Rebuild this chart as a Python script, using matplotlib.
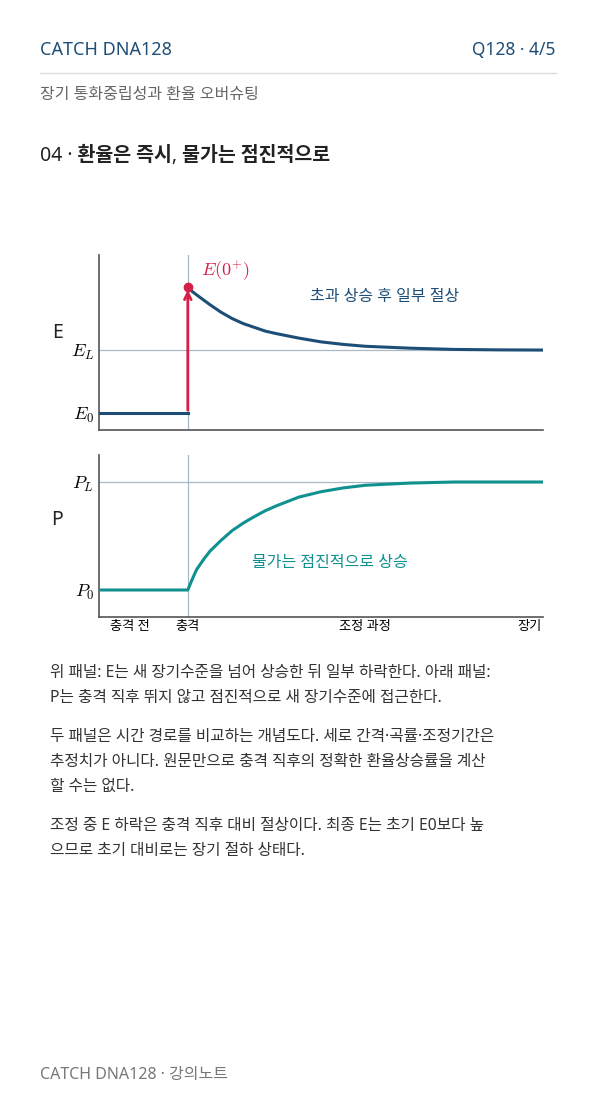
import matplotlib
matplotlib.use("Agg")
import matplotlib.pyplot as plt

plt.rcParams['font.family'] = ['Noto Sans', 'Noto Sans CJK KR', 'DejaVu Sans']
plt.rcParams['mathtext.fontset'] = 'cm'

# data
t_shock = 2.0
e_pre_t = [0, 2.0]
e_pre = [0, 0]
e_t = [2.0, 2.1, 2.25, 2.5, 2.75, 3.0, 3.25, 3.5, 3.75, 4.0, 4.5, 5.0, 5.5, 6.0, 6.5, 7.0, 7.5, 8.0, 9.0, 10.0]
e_v = [2.0, 1.93, 1.85, 1.72, 1.60, 1.50, 1.42, 1.36, 1.30, 1.26, 1.19, 1.13, 1.09, 1.06, 1.045, 1.03, 1.02, 1.01, 1.003, 1.0]
p_t = [0, 2.0, 2.1, 2.2, 2.35, 2.5, 2.75, 3.0, 3.25, 3.5, 3.75, 4.0, 4.25, 4.5, 4.75, 5.0, 5.5, 6.0, 6.5, 7.0, 7.5, 8.0, 10.0]
p_v = [0, 0, 0.10, 0.19, 0.28, 0.36, 0.46, 0.55, 0.62, 0.68, 0.735, 0.78, 0.82, 0.86, 0.885, 0.91, 0.945, 0.97, 0.98, 0.99, 0.995, 1.0, 1.0]
e_levels = [0, 1]
e_ticklabels = [r'$E_0$', r'$E_L$']
p_levels = [0, 1]
p_ticklabels = [r'$P_0$', r'$P_L$']
x_ticks = [0.7, 2.0, 6.0, 9.7]
x_ticklabels = ['충격 전', '충격', '조정 과정', '장기']

NAVY = '#1d4e78'
TEAL = '#0f9190'
RED = '#d41f47'
GRID = '#a8b8c6'
AX = '#555555'

fig = plt.figure(figsize=(5.96, 11.06), dpi=100)
fig.patch.set_facecolor('white')

fig.text(40/596, 1-50/1106, 'CATCH DNA128', color=NAVY, fontsize=13, fontweight='bold', va='center')
fig.text(556/596, 1-50/1106, 'Q128 · 4/5', color=NAVY, fontsize=12.5, ha='right', va='center')
fig.add_artist(plt.Line2D([40/596, 556/596], [1-73/1106]*2, color='#dddddd', lw=1))
fig.text(40/596, 1-95/1106, '장기 통화중립성과 환율 오버슈팅', color='#666666', fontsize=11.5, va='center')
fig.text(40/596, 1-156/1106, '04 · 환율은 즉시, 물가는 점진적으로', color='#222222', fontsize=14, fontweight='bold', va='center')

def style(ax):
    for s in ['top', 'right']:
        ax.spines[s].set_visible(False)
    for s in ['left', 'bottom']:
        ax.spines[s].set_color(AX)
        ax.spines[s].set_linewidth(1.2)
    ax.tick_params(length=0)
    ax.set_xlim(0, 10)

ax1 = fig.add_axes([99/596, 1-430/1106, 444/596, 175/1106])
style(ax1)
ax1.set_ylim(-0.27, 2.51)
ax1.axhline(1, color=GRID, lw=0.9, zorder=1)
ax1.axvline(t_shock, color=GRID, lw=0.9, zorder=1)
ax1.plot(e_pre_t, e_pre, color=NAVY, lw=2.2, zorder=3)
ax1.plot(e_t, e_v, color=NAVY, lw=2.2, zorder=3, solid_joinstyle='round')
ax1.annotate('', xy=(t_shock, e_v[0]), xytext=(t_shock, 0),
             arrowprops=dict(arrowstyle='->', color=RED, lw=2, mutation_scale=12), zorder=4)
ax1.plot([t_shock], [e_v[0]], 'o', color=RED, ms=6, zorder=5)
ax1.text(2.3, 2.25, r'$E(0^{+})$', color=RED, fontsize=13, va='center')
ax1.text(6.44, 1.84, '초과 상승 후 일부 절상', color=NAVY, fontsize=11.5, ha='center', va='center')
ax1.set_yticks(e_levels)
ax1.set_yticklabels(e_ticklabels, fontsize=13)
ax1.set_xticks([])
fig.text(57/596, 1-333/1106, 'E', fontsize=14, ha='center', va='center', color='#222222')

ax2 = fig.add_axes([99/596, 1-617/1106, 444/596, 162/1106])
style(ax2)
ax2.set_ylim(-0.25, 1.25)
ax2.axhline(1, color=GRID, lw=0.9, zorder=1)
ax2.axvline(t_shock, color=GRID, lw=0.9, zorder=1)
ax2.plot(p_t, p_v, color=TEAL, lw=2.2, zorder=3, solid_joinstyle='round')
ax2.text(5.2, 0.25, '물가는 점진적으로 상승', color=TEAL, fontsize=11.5, ha='center', va='center')
ax2.set_yticks(p_levels)
ax2.set_yticklabels(p_ticklabels, fontsize=13)
ax2.set_xticks(x_ticks)
ax2.set_xticklabels(x_ticklabels, fontsize=9.5)
ax2.tick_params(axis='x', pad=2)
fig.text(57/596, 1-520/1106, 'P', fontsize=14, ha='center', va='center', color='#222222')

paras = [
    (673, ['위 패널: E는 새 장기수준을 넘어 상승한 뒤 일부 하락한다. 아래 패널:',
           'P는 충격 직후 뛰지 않고 점진적으로 새 장기수준에 접근한다.']),
    (737, ['두 패널은 시간 경로를 비교하는 개념도다. 세로 간격·곡률·조정기간은',
           '추정치가 아니다. 원문만으로 충격 직후의 정확한 환율상승률을 계산',
           '할 수는 없다.']),
    (826, ['조정 중 E 하락은 충격 직후 대비 절상이다. 최종 E는 초기 E0보다 높',
           '으므로 초기 대비로는 장기 절하 상태다.']),
]
for y0, lines in paras:
    for i, ln in enumerate(lines):
        fig.text(50/596, 1-(y0+i*25)/1106, ln, fontsize=11.3, color='#333333', va='center')

fig.text(40/596, 1-1075/1106, 'CATCH DNA128 · 강의노트', color='#777777', fontsize=11.5, va='center')

fig.savefig('out.png', dpi=100)
